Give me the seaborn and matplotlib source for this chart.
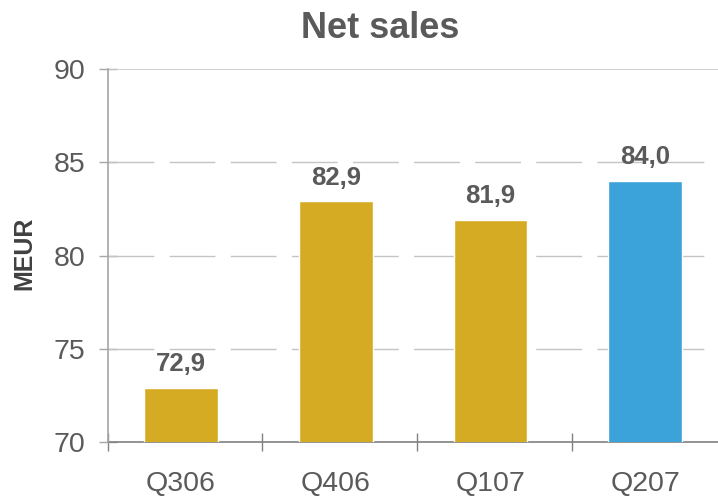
import matplotlib
matplotlib.use("Agg")
import matplotlib.pyplot as plt
import seaborn as sns
import pandas as pd

# Quarterly net sales, MEUR
quarters = ["Q306", "Q406", "Q107", "Q207"]
net_sales = [72.9, 82.9, 81.9, 84.0]
bar_colors = ["#D6AB24", "#D6AB24", "#D6AB24", "#3BA3DA"]
y_ticks = [70, 75, 80, 85, 90]

sns.set_theme(style="white")
plt.rcParams["font.family"] = ["Liberation Sans", "DejaVu Sans"]

text_gray = "#5a5a5a"

df = pd.DataFrame({"quarter": quarters, "sales": net_sales})

fig = plt.figure(figsize=(7.18, 4.98), dpi=100)
ax = fig.add_axes([0.150, 0.1124, 0.850, 0.749])

sns.barplot(data=df, x="quarter", y="sales", hue="quarter",
            palette=dict(zip(quarters, bar_colors)), legend=False,
            width=0.476, saturation=1, ax=ax, zorder=3)

ax.set_ylim(70, 90)
ax.set_yticks(y_ticks)
ax.set_xlim(-0.474, 3.471)

# dashed horizontal gridlines
for yv in y_ticks[1:-1]:
    ax.axhline(yv, color="#c4c4c4", lw=1.0, linestyle=(0, (33, 11)), zorder=1)
ax.axhline(90, color="#c8c8c8", lw=1.2, zorder=1)

# category boundary ticks on the x axis, labels at the bar centres
ax.set_xticks([i - 0.474 for i in range(len(quarters))], minor=True)
ax.set_xticks(range(len(quarters)))
ax.set_xticklabels(quarters)
ax.tick_params(axis="x", which="major", bottom=True, length=0, pad=21,
               labelsize=20.5, labelcolor=text_gray)
ax.tick_params(axis="x", which="minor", bottom=True, direction="inout",
               length=13, width=1, color="#808080")
ax.tick_params(axis="y", which="major", left=True, direction="inout",
               length=13, width=1, color="#a6a6a6", pad=9.8, labelsize=20.5,
               labelcolor=text_gray)
ax.yaxis.set_major_formatter(matplotlib.ticker.FormatStrFormatter("%d"))

for side in ["top", "right"]:
    ax.spines[side].set_visible(False)
ax.spines["left"].set_color("#a6a6a6")
ax.spines["left"].set_linewidth(1.2)
ax.spines["bottom"].set_color("#808080")
ax.spines["bottom"].set_linewidth(1.2)
ax.spines["left"].set_zorder(4)

ax.set_xlabel("")
ax.set_ylabel("")

# value labels above bars
for container in ax.containers:
    vals = [bar.get_height() for bar in container]
    ax.bar_label(container,
                 labels=[f"{v:.1f}".replace(".", ",") for v in vals],
                 padding=8.5, fontsize=18.5, fontweight="bold",
                 color=text_gray, zorder=5)

fig.text(380 / 718, 1 - 38 / 498, "Net sales", ha="center", va="baseline",
         fontsize=26, fontweight="bold", color=text_gray)
fig.text(24 / 718, 1 - 253 / 498, "MEUR", ha="center", va="center",
         rotation=90, fontsize=18, fontweight="bold", color="#404040")

fig.savefig("out.png", dpi=100)
